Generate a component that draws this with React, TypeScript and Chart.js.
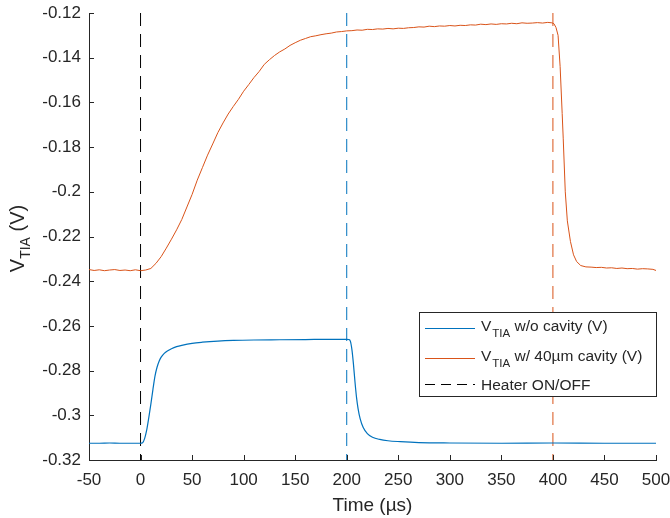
import React, { useEffect, useRef } from "react";
import { Chart, registerables } from "chart.js";

Chart.register(...registerables);

// ---------- data ----------
const xTickValues = [-50, 0, 50, 100, 150, 200, 250, 300, 350, 400, 450, 500];
const xTickLabels = ["-50", "0", "50", "100", "150", "200", "250", "300", "350", "400", "450", "500"];
const yTickValues = [-0.32, -0.3, -0.28, -0.26, -0.24, -0.22, -0.2, -0.18, -0.16, -0.14, -0.12];
const yTickLabels = ["-0.32", "-0.3", "-0.28", "-0.26", "-0.24", "-0.22", "-0.2", "-0.18", "-0.16", "-0.14", "-0.12"];

// [time (µs), V_TIA (V)] without cavity
const blueSeries: [number, number][] = [
  [-50, -0.3125], [-40, -0.3125], [-30, -0.3124], [-20, -0.3125], [-10, -0.3125], [0, -0.3125],
  [2, -0.3123], [4, -0.3103], [6, -0.3065], [8, -0.301], [10, -0.295], [12, -0.2885],
  [14, -0.2825], [16, -0.2785], [18, -0.2758], [20, -0.274], [23, -0.2723], [26, -0.2712],
  [30, -0.2702], [35, -0.2693], [40, -0.2687], [50, -0.2678], [60, -0.2673], [75, -0.2668],
  [90, -0.2665], [110, -0.2663], [135, -0.2662], [160, -0.2661], [185, -0.266], [200, -0.266],
  [202, -0.2661], [203.5, -0.2668], [205, -0.2705], [206.5, -0.277], [208, -0.285],
  [209.5, -0.292], [211, -0.297], [213, -0.3015], [216, -0.3055], [220, -0.3082],
  [225, -0.3098], [232, -0.3108], [240, -0.3114], [252, -0.3118], [270, -0.3122],
  [300, -0.3124], [350, -0.3125], [400, -0.3124], [450, -0.3125], [500, -0.3125],
];

// [time (µs), V_TIA (V)] with 40µm cavity
const orangeSeries: [number, number][] = [
  [-50, -0.2348], [-45, -0.2352], [-40, -0.2349], [-35, -0.2353], [-30, -0.235], [-25, -0.2348],
  [-20, -0.2352], [-15, -0.235], [-10, -0.2353], [-5, -0.2349], [0, -0.2353], [5, -0.235],
  [10, -0.2343], [15, -0.232], [20, -0.229], [25, -0.2252], [30, -0.2212], [35, -0.217],
  [40, -0.2124], [45, -0.2068], [50, -0.2012], [55, -0.1948], [60, -0.1892], [65, -0.1836],
  [70, -0.1786], [75, -0.1735], [80, -0.1692], [85, -0.1652], [90, -0.1618], [95, -0.1586],
  [100, -0.155], [105, -0.152], [110, -0.1489], [115, -0.1462], [120, -0.143], [125, -0.1409],
  [130, -0.139], [135, -0.1374], [140, -0.1361], [145, -0.1345], [150, -0.1333], [155, -0.1322],
  [160, -0.1314], [165, -0.1306], [170, -0.1302], [175, -0.1297], [180, -0.1293], [185, -0.129],
  [190, -0.1285], [195, -0.1283], [200, -0.128], [205, -0.1279], [210, -0.1276], [215, -0.1277],
  [220, -0.1273], [225, -0.1274], [230, -0.1271], [235, -0.1272], [240, -0.1269], [245, -0.1271],
  [250, -0.1268], [255, -0.1269], [260, -0.1266], [265, -0.1265], [270, -0.1262], [275, -0.1263],
  [280, -0.1259], [285, -0.1261], [290, -0.1258], [295, -0.1259], [300, -0.1256], [305, -0.1258],
  [310, -0.1255], [315, -0.1256], [320, -0.1253], [325, -0.1254], [330, -0.125], [335, -0.1252],
  [340, -0.1249], [345, -0.1251], [350, -0.1248], [355, -0.1249], [360, -0.1246], [365, -0.1248],
  [370, -0.1244], [375, -0.1246], [380, -0.1245], [385, -0.1243], [390, -0.1245], [395, -0.1242],
  [399, -0.1244], [401, -0.1248], [403, -0.1265], [405, -0.13], [407, -0.144], [409, -0.165],
  [410, -0.176], [412, -0.2], [414, -0.213], [417, -0.2222], [420, -0.2282], [423, -0.2312],
  [427, -0.233], [432, -0.2336], [437, -0.2337], [442, -0.2339], [447, -0.2338], [452, -0.2341],
  [457, -0.234], [462, -0.2343], [467, -0.2341], [472, -0.2344], [477, -0.2343], [482, -0.2346],
  [487, -0.2344], [492, -0.2345], [497, -0.2347], [500, -0.2352],
];

// Heater ON/OFF markers (µs)
const markerTimes = [0, 200, 400];

const legendEntries = [
  { main: "V", sub: "TIA", rest: " w/o cavity (V)" },
  { main: "V", sub: "TIA", rest: " w/ 40µm cavity (V)" },
  { main: "Heater ON/OFF", sub: "", rest: "" },
];
const xTitle = "Time (µs)";
const yTitle = { main: "V", sub: "TIA", rest: " (V)" };

// ---------- styles ----------
const BLUE = "#0072BD";
const ORANGE = "#D95319";
const AXIS = "#262626";
const FONT = '"Liberation Sans", Arial, Helvetica, sans-serif';
const markerColors = ["#000000", BLUE, ORANGE];

export default function App() {
  const ref = useRef<HTMLCanvasElement>(null);

  useEffect(() => {
    if (!ref.current) return;

    const overlay = {
      id: "overlay",
      afterDraw(chart: any) {
        const { ctx, chartArea } = chart;
        const xs = chart.scales.x;
        const ys = chart.scales.y;
        ctx.save();
        // inward ticks
        ctx.strokeStyle = AXIS;
        ctx.lineWidth = 1;
        ctx.setLineDash([]);
        ctx.beginPath();
        xTickValues.forEach((v) => {
          const px = Math.round(xs.getPixelForValue(v)) + 0.5;
          ctx.moveTo(px, chartArea.bottom);
          ctx.lineTo(px, chartArea.bottom - 5);
        });
        yTickValues.forEach((v) => {
          const py = Math.round(ys.getPixelForValue(v)) + 0.5;
          ctx.moveTo(chartArea.left, py);
          ctx.lineTo(chartArea.left + 5, py);
        });
        ctx.stroke();

        // x title
        ctx.fillStyle = AXIS;
        ctx.font = `19px ${FONT}`;
        ctx.textAlign = "center";
        ctx.textBaseline = "middle";
        ctx.fillText(xTitle, (chartArea.left + chartArea.right) / 2, 506);

        // y title (rotated, with subscript)
        ctx.save();
        ctx.translate(24, (chartArea.top + chartArea.bottom) / 2 + 2);
        ctx.rotate(-Math.PI / 2);
        ctx.textAlign = "left";
        ctx.textBaseline = "alphabetic";
        const big = `20px ${FONT}`;
        const small = `14px ${FONT}`;
        ctx.font = big;
        const w1 = ctx.measureText(yTitle.main).width;
        const w3 = ctx.measureText(yTitle.rest).width;
        ctx.font = small;
        const w2 = ctx.measureText(yTitle.sub).width;
        let sx = -(w1 + w2 + w3) / 2;
        ctx.font = big;
        ctx.fillText(yTitle.main, sx, 0);
        sx += w1;
        ctx.font = small;
        ctx.fillText(yTitle.sub, sx, 6);
        sx += w2;
        ctx.font = big;
        ctx.fillText(yTitle.rest, sx, 0);
        ctx.restore();

        // legend
        const lx = 419.5, ly = 312.5, lw = 237, lh = 84;
        ctx.fillStyle = "#ffffff";
        ctx.fillRect(lx, ly, lw, lh);
        ctx.strokeStyle = AXIS;
        ctx.lineWidth = 1;
        ctx.strokeRect(lx, ly, lw, lh);
        const rows = [328.5, 358.5, 384.5];
        const lineColors = [BLUE, ORANGE, "#000000"];
        const dashes = [[], [], [10, 6]];
        legendEntries.forEach((e, i) => {
          const y = rows[i];
          ctx.strokeStyle = lineColors[i];
          ctx.lineWidth = 1;
          ctx.setLineDash(dashes[i]);
          ctx.beginPath();
          ctx.moveTo(425, y);
          ctx.lineTo(475, y);
          ctx.stroke();
          ctx.setLineDash([]);
          ctx.fillStyle = AXIS;
          ctx.textAlign = "left";
          ctx.textBaseline = "alphabetic";
          let tx = 481;
          const base = e.sub ? y + 2.5 : y + 5.5;
          ctx.font = `15.5px ${FONT}`;
          ctx.fillText(e.main, tx, base);
          tx += ctx.measureText(e.main).width;
          if (e.sub) {
            ctx.font = `11.5px ${FONT}`;
            ctx.fillText(e.sub, tx + 1, base + 6);
            tx += ctx.measureText(e.sub).width + 1;
            ctx.font = `15.5px ${FONT}`;
            ctx.fillText(e.rest, tx, base);
          }
        });
        ctx.restore();
      },
    };

    const datasets: any[] = [
      {
        label: "blue",
        data: blueSeries.map(([x, y]) => ({ x, y })),
        borderColor: BLUE,
        borderWidth: 1.2,
        pointRadius: 0,
        cubicInterpolationMode: "monotone",
        fill: false,
      },
      {
        label: "orange",
        data: orangeSeries.map(([x, y]) => ({ x, y })),
        borderColor: ORANGE,
        borderWidth: 1,
        pointRadius: 0,
        tension: 0,
        fill: false,
      },
      ...markerTimes.map((t, i) => ({
        label: "marker" + i,
        data: [
          { x: t, y: yTickValues[yTickValues.length - 1] },
          { x: t, y: yTickValues[0] },
        ],
        borderColor: markerColors[i],
        borderWidth: 1,
        borderDash: [13, 8],
        pointRadius: 0,
        fill: false,
      })),
    ];

    const chart = new Chart(ref.current, {
      type: "line",
      data: { datasets },
      plugins: [overlay],
      options: {
        animation: false,
        responsive: false,
        devicePixelRatio: 1,
        layout: { padding: { top: 13, right: 14, left: 0, bottom: 0 } },
        plugins: { legend: { display: false }, tooltip: { enabled: false } },
        scales: {
          x: {
            type: "linear",
            min: -50,
            max: 500,
            afterFit: (s: any) => { s.height = 58; s.paddingLeft = 0; s.paddingRight = 0; },
            afterBuildTicks: (s: any) => { s.ticks = xTickValues.map((value) => ({ value })); },
            ticks: {
              color: AXIS,
              font: { family: FONT, size: 17 },
              padding: 10,
              maxRotation: 0,
              autoSkip: false,
              callback: (_v: any, i: number) => xTickLabels[i],
            },
            grid: { display: false, drawTicks: false },
            border: { display: true, color: AXIS, width: 1 },
          },
          y: {
            type: "linear",
            min: -0.32,
            max: -0.12,
            afterFit: (s: any) => { s.width = 89; s.paddingTop = 0; s.paddingBottom = 0; },
            afterBuildTicks: (s: any) => { s.ticks = yTickValues.map((value) => ({ value })); },
            ticks: {
              color: AXIS,
              font: { family: FONT, size: 17 },
              padding: 8,
              autoSkip: false,
              callback: (_v: any, i: number) => yTickLabels[i],
            },
            grid: { display: false, drawTicks: false },
            border: { display: true, color: AXIS, width: 1 },
          },
        },
      },
    });
    return () => chart.destroy();
  }, []);

  return (
    <div style={{ position: "fixed", left: 0, top: 0, width: 670, height: 518, background: "#fff" }}>
      <canvas ref={ref} width={670} height={518} style={{ width: 670, height: 518, display: "block" }} />
    </div>
  );
}
